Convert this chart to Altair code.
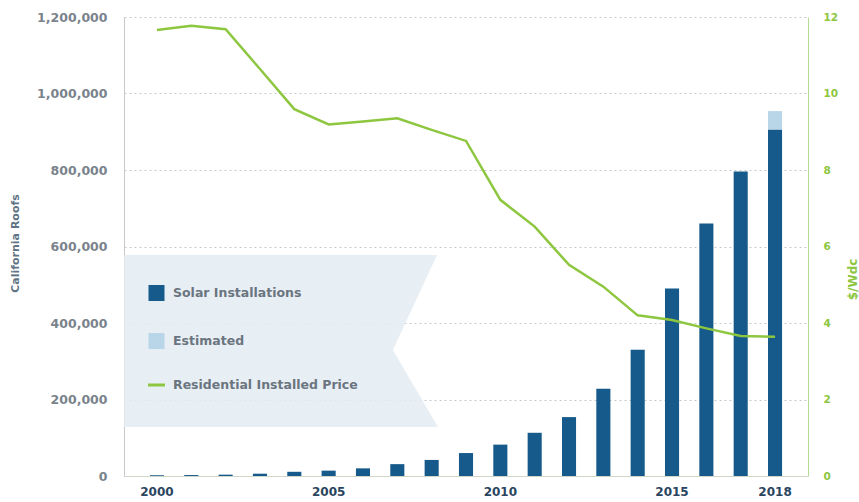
import altair as alt
import pandas as pd

years = list(range(2000, 2019))
installs = [2000, 2500, 3500, 6000, 11000, 14000, 20000, 31000, 42000, 60000,
            82000, 113000, 154000, 228000, 330000, 490000, 660000, 796000, 906000]
estimated_2018 = 48000
price = [11.66, 11.77, 11.68, 10.64, 9.59, 9.19, 9.27, 9.35, 9.05, 8.76,
         7.22, 6.52, 5.52, 4.95, 4.20, 4.08, 3.86, 3.66, 3.64]
x_tick_labels = [2000, 2005, 2010, 2015, 2018]
left_ticks = [0, 200000, 400000, 600000, 800000, 1000000, 1200000]
right_ticks = [0, 2, 4, 6, 8, 10, 12]

rows = []
for y, v in zip(years, installs):
    rows.append({"year": y, "type": "Solar Installations", "value": v, "ord": 0})
rows.append({"year": 2018, "type": "Estimated", "value": estimated_2018, "ord": 1})
bars_df = pd.DataFrame(rows)
price_df = pd.DataFrame({"year": years, "price": price})
one = pd.DataFrame({"a": [0]})

FONT = "DejaVu Sans"
GREEN = "#8dc63f"
NAVY = "#155a8a"
LIGHT = "#b9d5e8"

xscale = alt.Scale(paddingInner=0.59, paddingOuter=0.755)
xaxis = alt.Axis(values=x_tick_labels, labelAngle=0, title=None, ticks=False,
                 domainColor="#cfd8c8", labelColor="#2a4560", labelFont=FONT,
                 labelFontSize=12, labelFontWeight="bold", labelPadding=10, grid=False)

bars = alt.Chart(bars_df).mark_bar().encode(
    x=alt.X("year:O", scale=xscale, axis=xaxis),
    y=alt.Y("value:Q", stack="zero",
            scale=alt.Scale(domain=[0, 1200000], nice=False),
            axis=alt.Axis(orient="left", values=left_ticks, format=",.0f", ticks=False,
                          domainColor="#c8c8c8", grid=True, gridDash=[2, 3],
                          gridColor="#c4c9ce", labelColor="#7a838c", labelFont=FONT,
                          labelFontSize=12.5, labelFontWeight="bold", labelPadding=17,
                          title="California Roofs", titleColor="#5f7384", titleFont=FONT,
                          titleFontSize=11, titleFontWeight="bold", titleAngle=-90,
                          titleAlign="center", titleBaseline="middle",
                          titleX=-109, titleY=226)),
    color=alt.Color("type:N", scale=alt.Scale(domain=["Solar Installations", "Estimated"],
                                              range=[NAVY, LIGHT]), legend=None),
    order=alt.Order("ord:Q"),
)

line = alt.Chart(price_df).mark_line(color=GREEN, strokeWidth=2.5).encode(
    x=alt.X("year:O", scale=xscale, axis=xaxis),
    y=alt.Y("price:Q", scale=alt.Scale(domain=[0, 12], nice=False),
            axis=alt.Axis(orient="right", values=right_ticks, ticks=False,
                          domainColor="#b5dc95", grid=False, labelColor=GREEN,
                          labelFont=FONT, labelFontSize=10.5, labelFontWeight="bold",
                          labelPadding=15, title="$/Wdc", titleColor=GREEN,
                          titleFont=FONT, titleFontSize=12, titleFontWeight="bold",
                          titleAngle=-90, titleAlign="center", titleBaseline="middle",
                          titleX=44, titleY=262)),
)

ribbon_path = "M-1,-0.548L0.994,-0.548L0.713,0.057L1,0.548L-1,0.548Z"
box = alt.Chart(one).mark_point(shape=ribbon_path, filled=True, fill="#e4ecf2",
                                opacity=0.85, strokeWidth=0, size=314 * 314).encode(
    x=alt.value(157), y=alt.value(324))

sq1 = alt.Chart(one).mark_square(size=256, color=NAVY, opacity=1).encode(
    x=alt.value(32.5), y=alt.value(276))
sq2 = alt.Chart(one).mark_square(size=256, color=LIGHT, opacity=1).encode(
    x=alt.value(32.5), y=alt.value(324))
lg_line = alt.Chart(one).mark_rule(color=GREEN, strokeWidth=3).encode(
    x=alt.value(24), x2=alt.value(41), y=alt.value(368))

def lg_text(t, yv):
    return alt.Chart(one).mark_text(text=t, align="left", baseline="middle", font=FONT,
                                    fontSize=12.5, fontWeight="bold", color="#6b7580").encode(
        x=alt.value(49), y=alt.value(yv))

chart = alt.layer(
    box, bars, line, sq1, sq2, lg_line,
    lg_text("Solar Installations", 276),
    lg_text("Estimated", 324),
    lg_text("Residential Installed Price", 368),
).resolve_scale(y="independent").properties(
    width=684, height=459,
    autosize=alt.AutoSizeParams(type="none"),
    padding={"left": 124, "top": 17, "right": 51, "bottom": 26},
    background="white",
).configure_view(stroke=None)

chart.save("out.html", embed_options={"renderer": "svg", "actions": False})
